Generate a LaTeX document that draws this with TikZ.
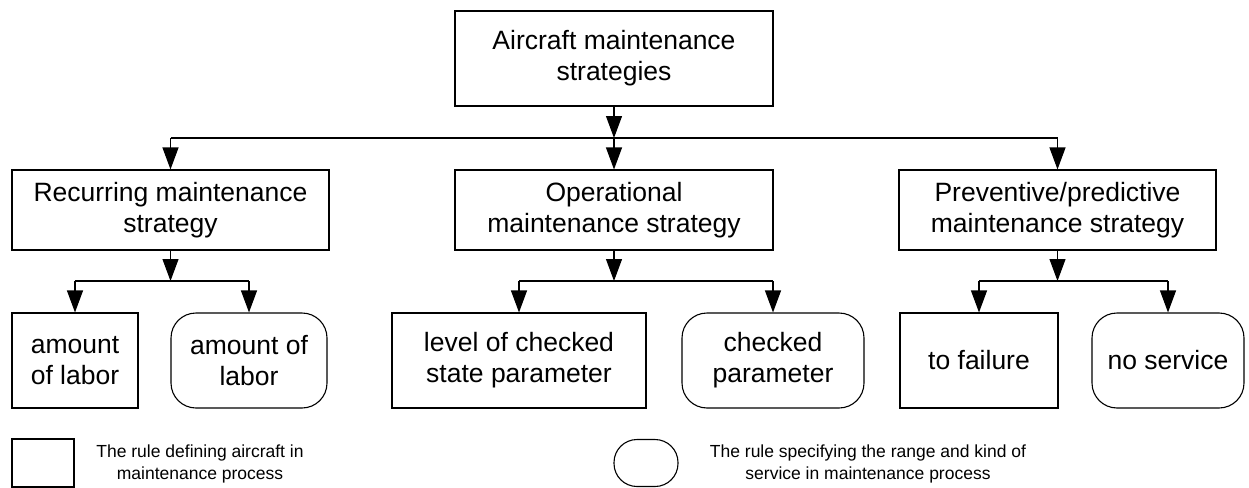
\documentclass[tikz,border=0pt]{standalone}
\usepackage{fontspec}
\setmainfont{Liberation Sans}
\usetikzlibrary{arrows.meta}

\begin{document}
\begin{tikzpicture}[x=1pt,y=1pt,
	line width=1.1pt,
	every node/.style={inner sep=0pt,align=center,font=\fontsize{26.5}{31}\selectfont},
	rulebox/.style={draw,minimum height=#1},
	rulebox/.default=80,
	servbox/.style={draw,rounded corners=25pt,minimum height=95},
	legfont/.style={font=\fontsize{17.5}{21.5}\selectfont},
	arr/.style={-{Triangle[length=22pt,width=16pt]}}]
			\useasboundingbox (0,0) rectangle (1249,-487);
			% top
			\node [rulebox=95,minimum width=318] (ams) at (614,-58.5) {Aircraft maintenance\\strategies};
			% strategies
			\node [rulebox,minimum width=317] (rec) at (170.5,-210) {Recurring maintenance\\strategy};
			\node [rulebox,minimum width=318] (ope) at (614,-210) {Operational\\maintenance strategy};
			\node [rulebox,minimum width=317] (pre) at (1057.5,-210) {Preventive/predictive\\maintenance strategy};
			% rules
			\node [rulebox=95,minimum width=126] (labrule) at (75,-360.5) {amount\\of labor};
			\node [servbox,minimum width=156] (labserv) at (249,-360.5) {amount of\\labor};
			\node [rulebox=95,minimum width=254] (lvlrule) at (519,-360.5) {level of checked\\state parameter};
			\node [servbox,minimum width=182] (chkserv) at (773,-360.5) {checked\\parameter};
			\node [rulebox=95,minimum width=158] (failrule) at (979,-360.5) {to failure};
			\node [servbox,minimum width=152] (noserv) at (1168,-360.5) {no service};
			% junctions
			\coordinate (j0) at (614,-138);
			\coordinate (j1) at (170.5,-281);
			\coordinate (j2) at (614,-281);
			\coordinate (j3) at (1057.5,-281);
			\draw [arr] (ams.south) -- (j0);
			\draw (j0 -| rec.north) -- (j0 -| pre.north);
			\draw [arr] (j0 -| rec.north) -- (rec.north);
			\draw [arr] (j0) -- (ope.north);
			\draw [arr] (j0 -| pre.north) -- (pre.north);
			\draw [arr] (rec.south) -- (j1);
			\draw (j1 -| labrule.north) -- (j1 -| labserv.north);
			\draw [arr] (j1 -| labrule.north) -- (labrule.north);
			\draw [arr] (j1 -| labserv.north) -- (labserv.north);
			\draw [arr] (ope.south) -- (j2);
			\draw (j2 -| lvlrule.north) -- (j2 -| chkserv.north);
			\draw [arr] (j2 -| lvlrule.north) -- (lvlrule.north);
			\draw [arr] (j2 -| chkserv.north) -- (chkserv.north);
			\draw [arr] (pre.south) -- (j3);
			\draw (j3 -| failrule.north) -- (j3 -| noserv.north);
			\draw [arr] (j3 -| failrule.north) -- (failrule.north);
			\draw [arr] (j3 -| noserv.north) -- (noserv.north);
			% legend
			\node [draw,minimum width=62,minimum height=48] (legrule) at (43,-463) {};
			\node [legfont] (legruletxt) at (200,-464) {The rule defining aircraft in\\maintenance process};
			\node [draw,rounded corners=23pt,minimum width=64,minimum height=47] (legserv) at (646,-463) {};
			\node [legfont] (legservtxt) at (868,-464) {The rule specifying the range and kind of\\service in maintenance process};
\end{tikzpicture}
\end{document}
